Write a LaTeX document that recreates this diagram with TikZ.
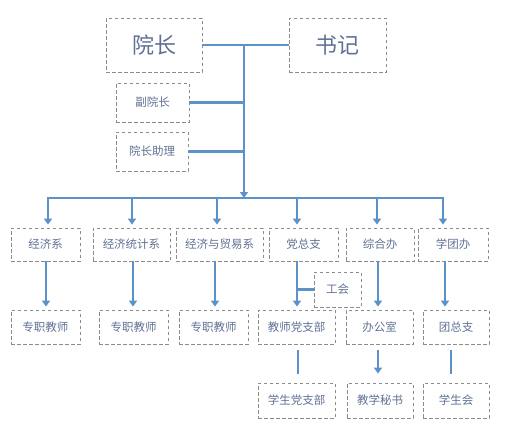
\documentclass[tikz,border=0pt]{standalone}
\usepackage{fontspec}
\setmainfont{Noto Sans CJK SC}
\usetikzlibrary{arrows.meta}
\definecolor{lineblue}{HTML}{5B92C8}
\definecolor{txt}{HTML}{5F7193}
\definecolor{dash}{HTML}{8C8C8C}
\tikzset{
  box/.style={draw=dash, dash pattern=on 3.5pt off 2.5pt, line width=0.8pt, text=txt,
    inner sep=0pt, font=\fontsize{11.5}{13}\selectfont},
  bigbox/.style={box, font=\fontsize{22}{24}\selectfont},
  conn/.style={draw=lineblue, line width=2.8pt},
  arr/.style={conn, -{Triangle[width=8pt,length=6pt]}},
}
\begin{document}
\begin{tikzpicture}[x=1pt,y=-1pt]
\useasboundingbox (0,0) rectangle (523,439);
% top
\node[bigbox, minimum width=96pt, minimum height=54pt] (yz) at (154,45) {院长};
\node[bigbox, minimum width=97pt, minimum height=54pt] (sj) at (337.5,45) {书记};
\node[box, minimum width=73pt, minimum height=39pt] (fyz) at (152.5,102.5) {副院长};
\node[box, minimum width=72pt, minimum height=39pt] (zl) at (152,151.5) {院长助理};
% row 2
\node[box, minimum width=69pt, minimum height=33pt] (jjx) at (45.5,244.5) {经济系};
\node[box, minimum width=77pt, minimum height=33pt] (tj) at (131.5,244.5) {经济统计系};
\node[box, minimum width=87pt, minimum height=33pt] (my) at (219.5,244.5) {经济与贸易系};
\node[box, minimum width=69pt, minimum height=33pt] (dzz) at (303.5,244.5) {党总支};
\node[box, minimum width=68pt, minimum height=33pt] (zhb) at (380,244.5) {综合办};
\node[box, minimum width=70pt, minimum height=33pt] (xtb) at (453,244.5) {学团办};
\node[box, minimum width=47pt, minimum height=35pt] (gh) at (337.5,289.5) {工会};
% row 3
\node[box, minimum width=69pt, minimum height=34pt] (zz1) at (45.5,327) {专职教师};
\node[box, minimum width=69pt, minimum height=34pt] (zz2) at (133.5,327) {专职教师};
\node[box, minimum width=69pt, minimum height=34pt] (zz3) at (213.5,327) {专职教师};
\node[box, minimum width=77pt, minimum height=34pt] (jsd) at (296.5,327) {教师党支部};
\node[box, minimum width=67pt, minimum height=34pt] (bgs) at (379.5,327) {办公室};
\node[box, minimum width=66pt, minimum height=34pt] (tzz) at (456,327) {团总支};
% row 4
\node[box, minimum width=77pt, minimum height=35pt] (xsd) at (296.5,400.5) {学生党支部};
\node[box, minimum width=66pt, minimum height=35pt] (jxms) at (380,400.5) {教学秘书};
\node[box, minimum width=66pt, minimum height=35pt] (xsh) at (456,400.5) {学生会};
% coordinates
\coordinate (j0) at (244,45);
\coordinate (bus) at (244,198);
\coordinate (bl) at (48,198);
\coordinate (br) at (443,198);
\coordinate (d1) at (48,198);
\coordinate (d2) at (132,198);
\coordinate (d3) at (217,198);
\coordinate (d4) at (297,198);
\coordinate (d5) at (377,198);
\coordinate (d6) at (443,198);
% top connectors
\draw[conn] (yz.east) -- (sj.west);
\draw[arr] (j0) -- (bus);
\draw[conn] (fyz.east) -- (fyz.east -| j0);
\draw[conn] (zl.east) -- (zl.east -| j0);
\draw[conn, line cap=butt] ([xshift=-1.4pt]bl) -- ([xshift=1.4pt]br);
% drops
\foreach \d/\n in {d1/jjx,d2/tj,d3/my,d4/dzz,d5/zhb,d6/xtb}
  \draw[arr, shorten >=3pt] (\d) -- (\d |- \n.north);
% row2 -> row3
\coordinate (e1) at (46,0);
\coordinate (e2) at (133,0);
\coordinate (e3) at (215,0);
\coordinate (e4) at (297,0);
\coordinate (e5) at (378,0);
\coordinate (e6) at (445,0);
\draw[arr, shorten >=3pt] (e1 |- jjx.south) -- (e1 |- zz1.north);
\draw[arr, shorten >=3pt] (e2 |- tj.south) -- (e2 |- zz2.north);
\draw[arr, shorten >=3pt] (e3 |- my.south) -- (e3 |- zz3.north);
\draw[arr, shorten >=3pt] (e4 |- dzz.south) -- (e4 |- jsd.north);
\draw[arr, shorten >=3pt] (e5 |- zhb.south) -- (e5 |- bgs.north);
\draw[arr, shorten >=3pt] (e6 |- xtb.south) -- (e6 |- tzz.north);
\draw[conn] (gh.west) -- (gh.west -| e4);
% row3 -> row4
\coordinate (f1) at (298,0);
\coordinate (f2) at (378,0);
\coordinate (f3) at (451,0);
\draw[conn, shorten <=6pt, shorten >=9pt] (f1 |- jsd.south) -- (f1 |- xsd.north);
\draw[arr, shorten <=6pt, shorten >=9pt] (f2 |- bgs.south) -- (f2 |- jxms.north);
\draw[conn, shorten <=6pt, shorten >=9pt] (f3 |- tzz.south) -- (f3 |- xsh.north);
\end{tikzpicture}
\end{document}
